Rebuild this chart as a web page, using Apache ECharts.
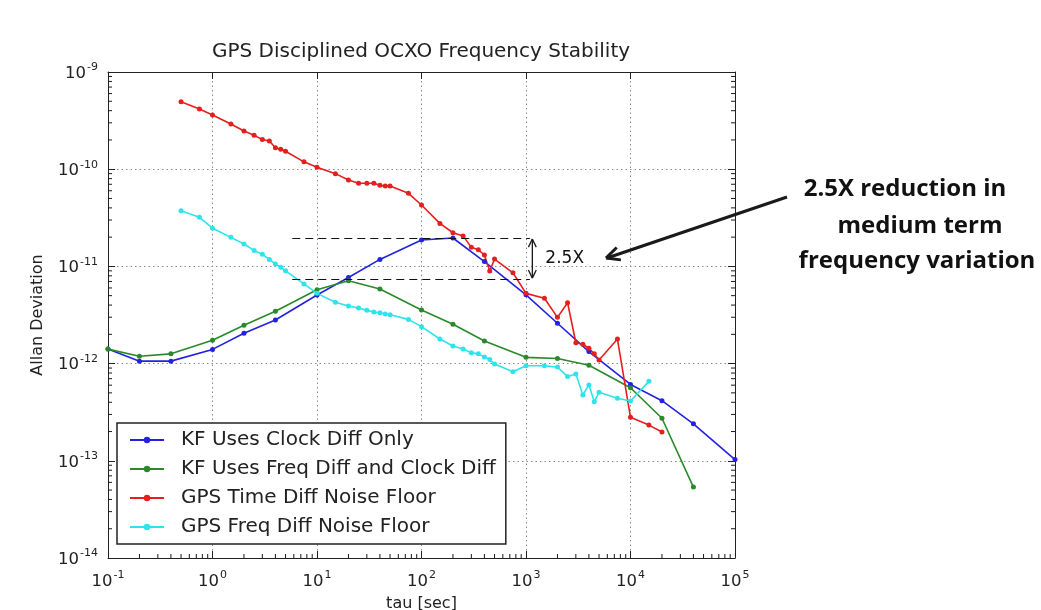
<!DOCTYPE html>
<html>
<head>
<meta charset="utf-8">
<script src="https://cdn.jsdelivr.net/npm/echarts@6/dist/echarts.min.js"></script>
<style>
  html, body { margin: 0; padding: 0; background: #fff; }
  #chart-container { width: 1041px; height: 610px; }
  #err { position: absolute; left: 0; top: 0; font: 12px monospace; color: #c00; }
</style>
</head>
<body>
<div id="chart-container"></div>
<div id="err"></div>
<script>
// tau [sec] and Allan deviation
var tauClock = [0.1, 0.2, 0.4, 1, 2, 4, 10, 20, 40, 100, 200, 400, 1000, 2000, 4000, 10000, 20000, 40000, 100000];
var adevClock = [1.41e-12, 1.06e-12, 1.06e-12, 1.4e-12, 2.05e-12, 2.81e-12, 5.08e-12, 7.7e-12, 1.18e-11, 1.87e-11,
  1.96e-11, 1.12e-11, 5.1e-12, 2.6e-12, 1.33e-12, 6.1e-13, 4.15e-13, 2.4e-13, 1.03e-13];

var tauFreqClock = [0.1, 0.2, 0.4, 1, 2, 4, 10, 20, 40, 100, 200, 400, 1000, 2000, 4000, 10000, 20000, 40000];
var adevFreqClock = [1.41e-12, 1.19e-12, 1.26e-12, 1.74e-12, 2.48e-12, 3.45e-12, 5.75e-12, 7.13e-12, 5.85e-12, 3.56e-12,
  2.54e-12, 1.71e-12, 1.16e-12, 1.13e-12, 9.6e-13, 5.65e-13, 2.74e-13, 5.37e-14];

var tauTimeFloor = [0.5, 0.75, 1, 1.5, 2, 2.5, 3, 3.5, 4, 4.5, 5, 7.5, 10, 15, 20, 25, 30, 35, 40, 45, 50, 75, 100,
  150, 200, 250, 300, 350, 400, 450, 500, 750, 1000, 1500, 2000, 2500, 3000, 3500, 4000, 4500, 5000, 7500, 10000, 15000, 20000];
var adevTimeFloor = [4.95e-10, 4.16e-10, 3.61e-10, 2.92e-10, 2.47e-10, 2.23e-10, 2.02e-10, 1.95e-10, 1.66e-10, 1.6e-10,
  1.53e-10, 1.19e-10, 1.05e-10, 9.0e-11, 7.75e-11, 7.16e-11, 7.16e-11, 7.16e-11, 6.82e-11, 6.7e-11, 6.7e-11, 5.65e-11,
  4.28e-11, 2.77e-11, 2.22e-11, 2.06e-11, 1.57e-11, 1.48e-11, 1.31e-11, 8.97e-12, 1.19e-11, 8.6e-12, 5.28e-12, 4.7e-12,
  2.99e-12, 4.23e-12, 1.64e-12, 1.58e-12, 1.44e-12, 1.26e-12, 1.09e-12, 1.79e-12, 2.8e-13, 2.33e-13, 1.98e-13];

var tauFreqFloor = [0.5, 0.75, 1, 1.5, 2, 2.5, 3, 3.5, 4, 4.5, 5, 7.5, 10, 15, 20, 25, 30, 35, 40, 45, 50, 75, 100,
  150, 200, 250, 300, 350, 400, 450, 500, 750, 1000, 1500, 2000, 2500, 3000, 3500, 4000, 4500, 5000, 7500, 10000, 15000];
var adevFreqFloor = [3.74e-11, 3.2e-11, 2.47e-11, 1.99e-11, 1.7e-11, 1.46e-11, 1.33e-11, 1.18e-11, 1.06e-11, 9.8e-12,
  9.0e-12, 6.6e-12, 5.28e-12, 4.27e-12, 3.92e-12, 3.73e-12, 3.53e-12, 3.4e-12, 3.34e-12, 3.24e-12, 3.18e-12, 2.85e-12,
  2.4e-12, 1.79e-12, 1.52e-12, 1.41e-12, 1.29e-12, 1.26e-12, 1.17e-12, 1.1e-12, 9.9e-13, 8.26e-13, 9.5e-13, 9.5e-13,
  9.2e-13, 7.35e-13, 7.8e-13, 4.75e-13, 6.03e-13, 4.06e-13, 5.07e-13, 4.4e-13, 4.12e-13, 6.57e-13];

var seriesNames = ['KF Uses Clock Diff Only', 'KF Uses Freq Diff and Clock Diff', 'GPS Time Diff Noise Floor', 'GPS Freq Diff Noise Floor'];
var seriesColors = ['#2222e0', '#2a8a2a', '#e61e1e', '#2ee4ec'];

// the 2.5X bracket: blue peak vs green peak
var bracketHigh = 1.96e-11;
var bracketLow = 7.4e-12;
var bracketTau = [5.8, 1090];
var arrowTau = 1150;

function zip(xs, ys) {
  return xs.map(function (x, i) { return [x, ys[i]]; });
}

var dom = document.getElementById('chart-container');
var myChart = echarts.init(dom, null, { renderer: 'canvas' });

var font = 'DejaVu Sans';

function expLabel(v) {
  var e = Math.round(Math.log10(v));
  return '{b|10}{s|' + e + '}';
}
function labelRich() {
  return {
    b: { fontFamily: font, fontSize: 16.5, color: '#222', verticalAlign: 'bottom' },
    s: { fontFamily: font, fontSize: 11, color: '#222', verticalAlign: 'bottom', padding: [0, 0, 9, 1] }
  };
}
function gridLine() { return { show: true, lineStyle: { color: '#888', type: [1.5, 3], width: 1 } }; }
function axLine() { return { show: true, lineStyle: { color: '#222', width: 1 } }; }
function tickIn() { return { show: true, inside: true, length: 7, lineStyle: { color: '#222' } }; }

function mkLine(i, data) {
  return {
    name: seriesNames[i],
    type: 'line',
    data: data,
    symbol: 'circle',
    symbolSize: 5,
    color: seriesColors[i],
    lineStyle: { width: 1.6, color: seriesColors[i] },
    itemStyle: { color: seriesColors[i] },
    animation: false
  };
}

var series = [
  mkLine(0, zip(tauClock, adevClock)),
  mkLine(1, zip(tauFreqClock, adevFreqClock)),
  mkLine(2, zip(tauTimeFloor, adevTimeFloor)),
  mkLine(3, zip(tauFreqFloor, adevFreqFloor))
];
series[0].markLine = {
  silent: true,
  animation: false,
  label: { show: false },
  lineStyle: { color: '#111', type: [8, 5], width: 1.2 },
  symbol: ['none', 'none'],
  data: [
    [{ coord: [bracketTau[0], bracketHigh] }, { coord: [bracketTau[1], bracketHigh] }],
    [{ coord: [bracketTau[0], bracketLow] }, { coord: [bracketTau[1], bracketLow] }]
  ]
};

var option = {
  backgroundColor: '#fff',
  animation: false,
  title: {
    text: 'GPS Disciplined OCXO Frequency Stability',
    left: 416,
    top: 37,
    textAlign: 'center',
    textStyle: { fontFamily: font, fontSize: 20, fontWeight: 'normal', color: '#222' }
  },
  legend: {
    data: seriesNames,
    orient: 'vertical',
    left: 117,
    top: 423,
    itemWidth: 34,
    itemHeight: 8,
    itemGap: 9,
    padding: [7, 10, 7, 12],
    borderColor: '#222',
    borderWidth: 1.5,
    backgroundColor: '#fff',
    textStyle: { fontFamily: font, fontSize: 20, color: '#222', padding: [0, 0, 0, 12] }
  },
  grid: { left: 108, right: 306, top: 72, bottom: 52, outerBoundsMode: 'none' },
  xAxis: [
    {
      type: 'log', logBase: 10, min: 0.1, max: 100000, splitNumber: 6,
      name: 'tau [sec]', nameLocation: 'middle', nameGap: 38,
      nameTextStyle: { fontFamily: font, fontSize: 16, color: '#222' },
      axisLine: axLine(), axisTick: tickIn(), splitLine: gridLine(),
      axisLabel: { formatter: expLabel, rich: labelRich(), margin: 12 }
    },
    {
      type: 'log', logBase: 10, min: 0.1, max: 100000, splitNumber: 6, position: 'top',
      axisLine: axLine(), axisTick: tickIn(), splitLine: { show: false }, axisLabel: { show: false }
    }
  ],
  yAxis: [
    {
      type: 'log', logBase: 10, min: 1e-14, max: 1e-9, splitNumber: 5,
      name: 'Allan Deviation', nameLocation: 'middle', nameGap: 62,
      nameTextStyle: { fontFamily: font, fontSize: 16, color: '#222' },
      axisLine: axLine(), axisTick: tickIn(), splitLine: gridLine(),
      axisLabel: { formatter: expLabel, rich: labelRich(), margin: 10 }
    },
    {
      type: 'log', logBase: 10, min: 1e-14, max: 1e-9, splitNumber: 5, position: 'right',
      axisLine: axLine(), axisTick: tickIn(), splitLine: { show: false }, axisLabel: { show: false }
    }
  ],
  series: series
};

myChart.setOption(option);

function toPx(x, y) {
  return myChart.convertToPixel({ xAxisIndex: 0, yAxisIndex: 0 }, [x, y]);
}

// extra decorations go straight onto the zrender layer
var zr = myChart.getZr();
function seg(x1, y1, x2, y2, w) {
  zr.add(new echarts.graphic.Line({
    silent: true, z: 50,
    shape: { x1: x1, y1: y1, x2: x2, y2: y2 },
    style: { stroke: '#1a1a1a', lineWidth: w || 1 }
  }));
}
function txt(s, x, y, f, align) {
  zr.add(new echarts.graphic.Text({
    silent: true, z: 50, x: x, y: y,
    style: { text: s, font: f, fill: '#111', align: align || 'left', verticalAlign: 'middle' }
  }));
}
function head(tx, ty, bx, by, size, w) {
  var spread = 0.45;
  var c = Math.cos(spread), s = Math.sin(spread);
  seg(tx, ty, tx + (bx * c - by * s) * size, ty + (bx * s + by * c) * size, w);
  seg(tx, ty, tx + (bx * c + by * s) * size, ty + (-bx * s + by * c) * size, w);
}

try {
  // log minor ticks (2..9 per decade) on all four sides
  var pLo = toPx(0.1, 1e-14);
  var pHi = toPx(100000, 1e-9);
  var left = pLo[0], bottom = pLo[1], right = pHi[0], top = pHi[1];
  for (var d = -1; d < 5; d++) {
    for (var k = 2; k <= 9; k++) {
      var px = toPx(k * Math.pow(10, d), 1e-12)[0];
      seg(px, bottom, px, bottom - 4);
      seg(px, top, px, top + 4);
    }
  }
  for (var e = -14; e < -9; e++) {
    for (var k2 = 2; k2 <= 9; k2++) {
      var py = toPx(1, k2 * Math.pow(10, e))[1];
      seg(left, py, left + 4, py);
      seg(right, py, right - 4, py);
    }
  }

  // double arrow and "2.5X" label for the bracket
  var aTop = toPx(arrowTau, bracketHigh), aBot = toPx(arrowTau, bracketLow);
  seg(aTop[0], aTop[1] + 1, aBot[0], aBot[1] - 1, 1.3);
  head(aTop[0], aTop[1] + 1, 0, 1, 9, 1.3);
  head(aBot[0], aBot[1] - 1, 0, -1, 9, 1.3);
  txt('2.5X', aTop[0] + 13, (aTop[1] + aBot[1]) / 2, '17px "DejaVu Sans"');

  // callout arrow and bold note on the right
  var tipX = 606, tipY = 258, tailX = 787, tailY = 197;
  var dx = tailX - tipX, dy = tailY - tipY;
  var len = Math.sqrt(dx * dx + dy * dy);
  seg(tailX, tailY, tipX + 1, tipY, 3);
  head(tipX, tipY, dx / len, dy / len, 15, 3);

  txt('2.5X reduction in', 905, 189, 'bold 24px "Open Sans"', 'center');
  txt('medium term', 920, 226, 'bold 24px "Open Sans"', 'center');
  txt('frequency variation', 917, 261, 'bold 24px "Open Sans"', 'center');
} catch (err) {
  document.getElementById('err').textContent = String(err && err.stack || err).slice(0, 400);
}

window.addEventListener('resize', myChart.resize);
</script>
</body>
</html>
